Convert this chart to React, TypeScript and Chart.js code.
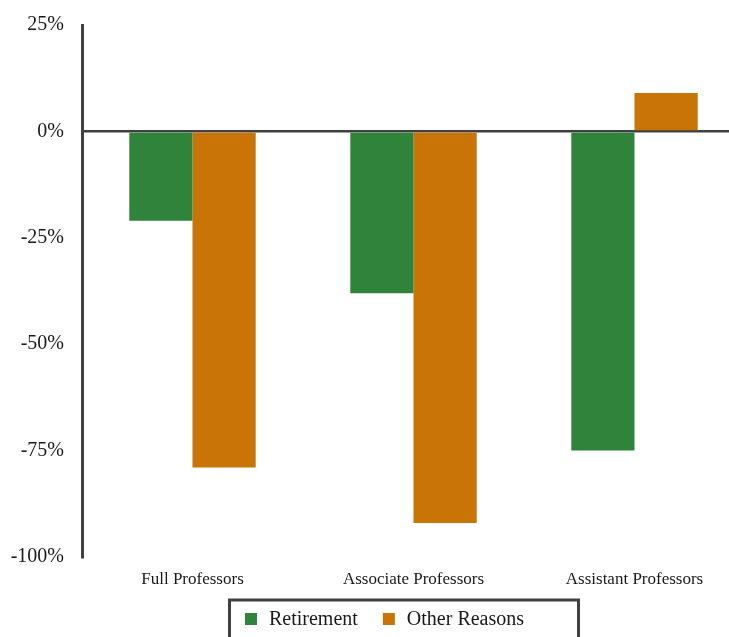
import React, { useEffect, useRef } from "react";
import { Chart, registerables } from "chart.js";

Chart.register(...registerables);

const categories = ["Full Professors", "Associate Professors", "Assistant Professors"];
const retirement = [-21, -38, -75];
const otherReasons = [-79, -92, 9];
const seriesLabels = ["Retirement", "Other Reasons"];
const seriesColors = ["#2F833B", "#C87406"];
const yTicks = [25, 0, -25, -50, -75, -100];

const FONT = "'Liberation Serif', 'Times New Roman', serif";

const boxedLegend = {
  id: "boxedLegend",
  afterDraw(chart: any) {
    const ctx = chart.ctx;
    ctx.save();
    ctx.strokeStyle = "#404040";
    ctx.lineWidth = 3;
    ctx.strokeRect(229.5, 600, 349, 60);
    ctx.font = `20px ${FONT}`;
    ctx.textBaseline = "middle";
    let x = 245;
    const yMid = 619;
    chart.data.datasets.forEach((ds: any) => {
      ctx.fillStyle = ds.backgroundColor;
      ctx.fillRect(x, yMid - 6, 12, 12);
      x += 24;
      ctx.fillStyle = "#1a1a1a";
      ctx.fillText(ds.label, x, yMid + 1);
      x += ctx.measureText(ds.label).width + 25;
    });
    ctx.restore();
  },
};

export default function App() {
  const ref = useRef<HTMLCanvasElement>(null);
  useEffect(() => {
    if (!ref.current) return;
    const chart = new Chart(ref.current, {
      type: "bar",
      data: {
        labels: categories,
        datasets: [
          { label: seriesLabels[0], data: retirement, backgroundColor: seriesColors[0] },
          { label: seriesLabels[1], data: otherReasons, backgroundColor: seriesColors[1] },
        ],
      },
      options: {
        responsive: false,
        animation: false,
        layout: { padding: { top: 25, left: 0, right: 0, bottom: 0 } },
        datasets: { bar: { categoryPercentage: 0.572, barPercentage: 1 } },
        plugins: { legend: { display: false }, tooltip: { enabled: false } },
        scales: {
          x: {
            grid: { display: false, drawTicks: false },
            border: { display: false },
            ticks: { color: "#1a1a1a", font: { family: FONT, size: 17 }, padding: 12, maxRotation: 0 },
            afterFit: (s: any) => { s.height = 80; s.paddingLeft = 0; s.paddingRight = 0; },
          },
          y: {
            min: -100,
            max: 25,
            afterBuildTicks: (s: any) => { s.ticks = yTicks.map((v) => ({ value: v })); },
            afterFit: (s: any) => { s.width = 82; s.paddingTop = 0; s.paddingBottom = 0; },
            grid: {
              drawTicks: false,
              color: (c: any) => (c.tick && c.tick.value === 0 ? "#404040" : "rgba(0,0,0,0)"),
              lineWidth: 2.5,
            },
            border: { display: true, color: "#404040", width: 3 },
            ticks: {
              color: "#1a1a1a",
              font: { family: FONT, size: 20 },
              padding: 18,
              callback: (v: any) => `${v}%`,
            },
          },
        },
      },
      plugins: [boxedLegend],
    });
    return () => chart.destroy();
  }, []);
  return (
    <div style={{ position: "absolute", left: 0, top: 0, width: 729, height: 637, overflow: "hidden", background: "#fff" }}>
      <canvas ref={ref} width={745} height={637} style={{ display: "block" }} />
    </div>
  );
}
